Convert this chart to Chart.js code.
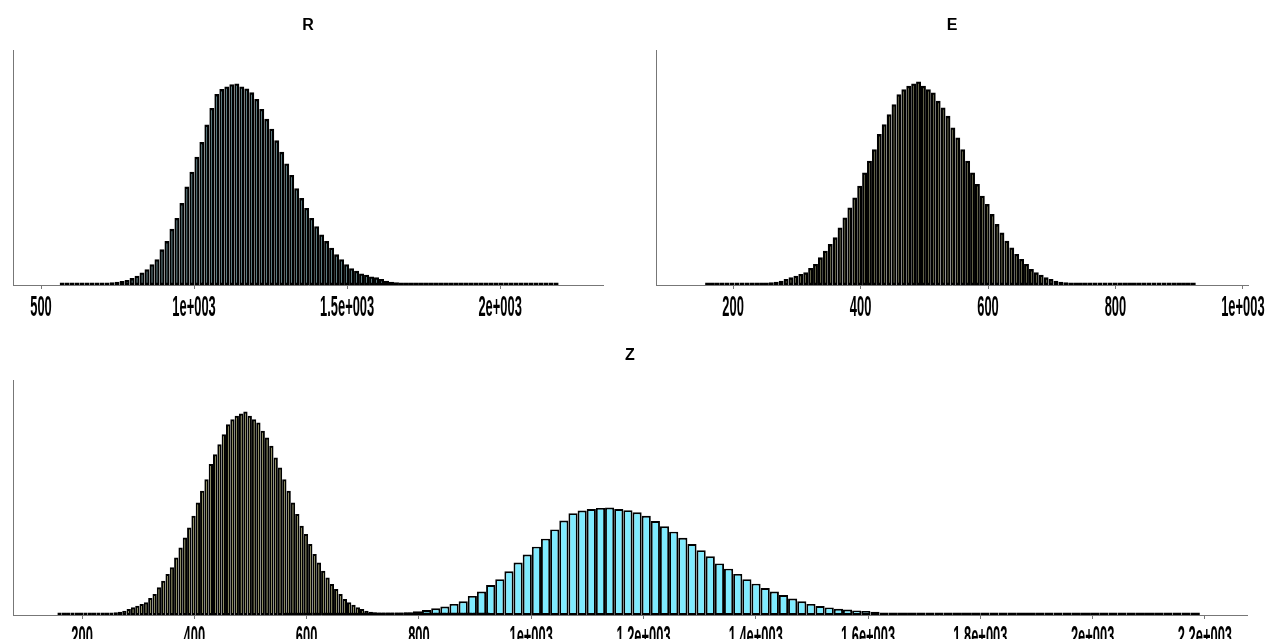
<!DOCTYPE html>
<html>
<head>
<meta charset="utf-8">
<script src="https://cdn.jsdelivr.net/npm/chart.js@4/dist/chart.umd.min.js"></script>
<style>
  html, body { margin: 0; padding: 0; background: #fff; width: 1265px; height: 639px; overflow: hidden; }
  canvas { position: absolute; }
</style>
</head>
<body>
<canvas id="cR" width="630" height="330" style="left:0;top:0;"></canvas>
<canvas id="cE" width="635" height="330" style="left:630px;top:0;"></canvas>
<canvas id="cZ" width="1265" height="309" style="left:0;top:330px;"></canvas>
<script>
// ---- data: histogram bin centres and counts ----
const binsR = [569.2,585.5,601.8,618.1,634.4,650.7,667.0,683.3,699.6,715.9,
  732.2,748.5,764.8,781.1,797.4,813.7,830.0,846.3,862.6,878.9,
  895.2,911.5,927.8,944.1,960.4,976.7,993.0,1009.3,1025.6,1041.9,
  1058.2,1074.5,1090.8,1107.1,1123.4,1139.7,1156.0,1172.3,1188.6,1204.9,
  1221.2,1237.5,1253.8,1270.1,1286.4,1302.7,1319.0,1335.3,1351.6,1367.9,
  1384.2,1400.5,1416.8,1433.1,1449.4,1465.7,1482.0,1498.3,1514.6,1530.9,
  1547.2,1563.5,1579.8,1596.1,1612.4,1628.7,1645.0,1661.3,1677.6,1693.9,
  1710.2,1726.5,1742.8,1759.1,1775.4,1791.7,1808.0,1824.3,1840.6,1856.9,
  1873.2,1889.5,1905.8,1922.1,1938.4,1954.7,1971.0,1987.3,2003.6,2019.9,
  2036.2,2052.5,2068.8,2085.1,2101.4,2117.7,2134.0,2150.3,2166.6,2182.9];
const countsR = [2,3,4,5,7,9,12,16,18,22,
  27,33,40,51,71,95,128,162,213,263,
  365,449,574,686,837,1006,1158,1310,1462,1640,
  1810,1952,2003,2030,2053,2060,2030,2009,1969,1901,
  1800,1699,1597,1479,1361,1243,1125,989,888,787,
  686,601,517,449,382,314,263,213,172,145,
  118,105,88,78,61,44,34,27,20,17,
  14,12,10,9,8,7,6,6,5,5,
  4,4,4,3,3,3,3,2,2,2,
  2,2,1,1,1,1,1,1,1,1];

const binsE = [159.9,167.6,175.3,183.0,190.7,198.4,206.1,213.8,221.5,229.2,
  236.9,244.6,252.3,260.0,267.7,275.4,283.1,290.8,298.5,306.2,
  313.9,321.6,329.3,337.0,344.7,352.4,360.1,367.8,375.5,383.2,
  390.9,398.6,406.3,414.0,421.7,429.4,437.1,444.8,452.5,460.2,
  467.9,475.6,483.3,491.0,498.7,506.4,514.1,521.8,529.5,537.2,
  544.9,552.6,560.3,568.0,575.7,583.4,591.1,598.8,606.5,614.2,
  621.9,629.6,637.3,645.0,652.7,660.4,668.1,675.8,683.5,691.2,
  698.9,706.6,714.3,722.0,729.7,737.4,745.1,752.8,760.5,768.2,
  775.9,783.6,791.3,799.0,806.7,814.4,822.1,829.8,837.5,845.2,
  852.9,860.6,868.3,876.0,883.7,891.4,899.1,906.8,914.5,922.2];
const countsE = [2,3,4,5,7,9,11,14,18,22,
  28,34,40,51,64,83,115,147,179,211,
  243,326,402,530,657,785,913,1104,1296,1487,
  1679,1902,2157,2381,2604,2892,3083,3274,3466,3658,
  3753,3817,3862,3900,3817,3753,3689,3530,3402,3243,
  3019,2828,2604,2381,2157,1934,1711,1551,1360,1168,
  1008,849,721,594,498,402,306,243,198,147,
  115,83,64,51,45,38,34,30,26,22,
  18,15,12,10,8,7,6,5,4,4,
  3,3,3,2,2,2,2,2,1,1];

// ---- tick values and labels ----
const ticksR = [500, 1000, 1500, 2000];
const tickLabelsR = ['500', '1e+003', '1.5e+003', '2e+003'];
const ticksE = [200, 400, 600, 800, 1000];
const tickLabelsE = ['200', '400', '600', '800', '1e+003'];
const ticksZ = [200, 400, 600, 800, 1000, 1200, 1400, 1600, 1800, 2000, 2200];
const tickLabelsZ = ['200', '400', '600', '800', '1e+003', '1.2e+003', '1.4e+003', '1.6e+003', '1.8e+003', '2e+003', '2.2e+003'];

const titles = ['R', 'E', 'Z'];
const colorR = '#7FEBFF';
const colorE = '#FFFF80';
const axisColor = '#777777';

// draw condensed tick labels at positions given by the x scale
const condensedTicks = {
  id: 'condensedTicks',
  afterDraw(chart, args, opts) {
    const s = chart.scales.x;
    const ctx = chart.ctx;
    ctx.save();
    ctx.fillStyle = '#000';
    ctx.font = 'bold 30px "Liberation Sans", Arial, sans-serif';
    ctx.textAlign = 'center';
    ctx.textBaseline = 'alphabetic';
    opts.values.forEach((v, i) => {
      const x = s.getPixelForValue(v);
      ctx.save();
      ctx.translate(x, s.top + 31);
      ctx.scale(0.43, 1);
      ctx.fillText(opts.labels[i], 0, 0);
      ctx.restore();
    });
    ctx.restore();
  }
};

function xScale(min, max, vals, height, display) {
  return {
    type: 'linear', min: min, max: max, offset: false, display: display,
    afterBuildTicks: s => { s.ticks = vals.map(v => ({ value: v })); },
    afterFit: s => { s.height = height; },
    ticks: { display: false },
    grid: { display: true, offset: false, drawOnChartArea: false, drawTicks: true, tickLength: 4, color: axisColor, tickColor: axisColor },
    border: { display: true, color: axisColor, width: 1 }
  };
}
function yScale(max) {
  return {
    min: 0, max: max,
    afterFit: s => { s.width = 0; },
    ticks: { display: false },
    grid: { display: false, drawOnChartArea: false, drawTicks: false },
    border: { display: true, color: axisColor, width: 1 }
  };
}
function barDataset(xs, ys, color, axis, bw) {
  return {
    data: xs.map((x, i) => ({ x: x, y: ys[i] })),
    xAxisID: axis,
    backgroundColor: color,
    borderColor: '#000',
    borderWidth: bw,
    borderSkipped: false,
    inflateAmount: 0,
    minBarLength: 2.5,
    barPercentage: 1,
    categoryPercentage: 1,
    grouped: false
  };
}
function baseOptions(title, pad, scales, tv, tl) {
  return {
    responsive: false,
    animation: false,
    devicePixelRatio: 1,
    layout: { padding: pad },
    plugins: {
      legend: { display: false },
      tooltip: { enabled: false },
      title: {
        display: true, text: title, color: '#000',
        font: { family: '"Liberation Sans", Arial, sans-serif', size: 16, weight: 'bold' },
        padding: { top: 16, bottom: 15 }
      },
      condensedTicks: { values: tv, labels: tl }
    },
    scales: scales
  };
}

new Chart(document.getElementById('cR'), {
  type: 'bar',
  data: { datasets: [barDataset(binsR, countsR, colorR, 'x', 2.35)] },
  options: baseOptions(titles[0], { left: 13, right: 27, top: 0, bottom: 0 },
    { x: xScale(408.5, 2336, ticksR, 45, true), y: yScale(2400) }, ticksR, tickLabelsR),
  plugins: [condensedTicks]
});

new Chart(document.getElementById('cE'), {
  type: 'bar',
  data: { datasets: [barDataset(binsE, countsE, colorE, 'x', 2.35)] },
  options: baseOptions(titles[1], { left: 26, right: 17, top: 0, bottom: 0 },
    { x: xScale(79, 1008, ticksE, 45, true), y: yScale(4500) }, ticksE, tickLabelsE),
  plugins: [condensedTicks]
});

new Chart(document.getElementById('cZ'), {
  type: 'bar',
  data: { datasets: [barDataset(binsE, countsE, colorE, 'x', 2.0), barDataset(binsR, countsR, colorR, 'x2', 1.9)] },
  options: baseOptions(titles[2], { left: 13, right: 18, top: 0, bottom: 0 },
    { x: xScale(77, 2275, ticksZ, 24, true), x2: xScale(77, 2275, ticksZ, 0, false), y: yScale(4500) }, ticksZ, tickLabelsZ),
  plugins: [condensedTicks]
});
</script>
</body>
</html>
